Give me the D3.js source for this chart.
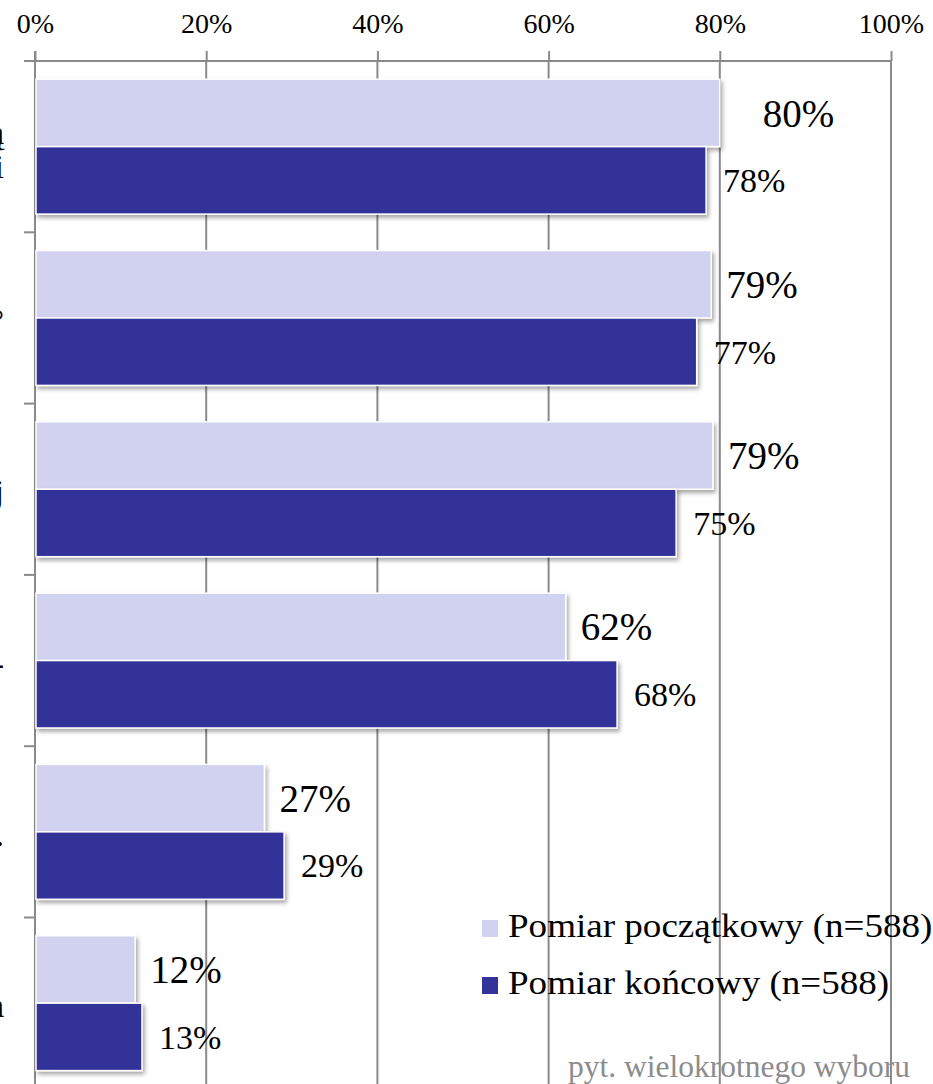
<!DOCTYPE html>
<html>
<head>
<meta charset="utf-8">
<script src="https://cdn.jsdelivr.net/npm/d3@7"></script>
<style>
  body { margin: 0; background: #fff; overflow: hidden; }
  text { font-family: "Liberation Serif", "Times New Roman", serif; }
</style>
</head>
<body>
<div class="wrapper"></div>
<script>
// data
var categories = ['k1', 'k2', 'k3', 'k4', 'k5', 'k6'];
// only the right ends of the category labels are visible in the picture
var categoryTails = [['ą', 'i'], ['°'], ['j'], ['-'], ['.'], ['a']];
var seriesNames = ['Pomiar początkowy (n=588)', 'Pomiar końcowy (n=588)'];
var poczatkowy = [80, 79, 79.2, 62, 26.8, 11.7];
var koncowy    = [78.4, 77.3, 74.9, 68, 29.1, 12.5];
var tickValues = [0, 20, 40, 60, 80, 100];
var note = 'pyt. wielokrotnego wyboru';

var colors = ['#d1d2ef', '#333399'];

var width = 933, height = 1084;
var margin = {top: 61, left: 35, right: 42};

var svg = d3.select('.wrapper').append('svg')
    .attr('width', width)
    .attr('height', height);

var defs = svg.append('defs');
var f = defs.append('filter').attr('id', 'shadow')
    .attr('x', '-5%').attr('y', '-10%').attr('width', '115%').attr('height', '130%');
f.append('feDropShadow')
    .attr('dx', 2).attr('dy', 3).attr('stdDeviation', 2)
    .attr('flood-color', '#000').attr('flood-opacity', 0.35);

var x = d3.scaleLinear()
    .domain([0, 100])
    .range([margin.left, width - margin.right]);

var y = d3.scaleBand()
    .domain(categories)
    .range([margin.top, margin.top + 6 * 171.3]);

var y1 = d3.scaleBand()
    .domain([0, 1])
    .range([0, y.bandwidth()])
    .paddingOuter(0.27);

var gridColor = '#8a8a8a';

// gridlines
svg.append('g')
    .selectAll('line')
    .data(tickValues.slice(1))
    .enter().append('line')
    .attr('x1', d => x(d)).attr('x2', d => x(d))
    .attr('y1', margin.top).attr('y2', height)
    .attr('stroke', gridColor).attr('stroke-width', 2);

// top axis
var xAxis = d3.axisTop(x)
    .tickValues(tickValues)
    .tickSize(10)
    .tickSizeOuter(0)
    .tickPadding(18)
    .tickFormat(d => d + '%');

var gx = svg.append('g')
    .attr('transform', 'translate(0,' + margin.top + ')')
    .call(xAxis);
gx.select('.domain').remove();
gx.selectAll('.tick line').attr('stroke', gridColor).attr('stroke-width', 2);
gx.selectAll('.tick text')
    .attr('fill', '#000')
    .style('font-family', '"Liberation Serif", serif')
    .style('font-size', '28px');

svg.append('line')
    .attr('x1', 24).attr('x2', x(100) + 1)
    .attr('y1', margin.top).attr('y2', margin.top)
    .attr('stroke', gridColor).attr('stroke-width', 2);

// left axis line and band ticks
svg.append('line')
    .attr('x1', x(0)).attr('x2', x(0))
    .attr('y1', margin.top - 10).attr('y2', height)
    .attr('stroke', gridColor).attr('stroke-width', 2);

svg.append('g')
    .selectAll('line')
    .data(categories.slice(1))
    .enter().append('line')
    .attr('x1', 24).attr('x2', x(0))
    .attr('y1', d => y(d)).attr('y2', d => y(d))
    .attr('stroke', gridColor).attr('stroke-width', 2);

// clipped category label ends
categories.forEach((c, i) => {
  var tails = categoryTails[i];
  var t = svg.append('text')
      .attr('text-anchor', 'end')
      .attr('font-size', '34px')
      .attr('fill', '#000');
  tails.forEach((s, j) => {
    t.append('tspan')
      .attr('x', 4)
      .attr('fill', '#000')
      .attr('y', y(c) + y.bandwidth() / 2 + 14 - (tails.length - 1) * 17 + j * 34)
      .text(s);
  });
});

// bars
var series = [poczatkowy, koncowy];
var groups = svg.append('g').selectAll('g')
    .data(categories)
    .enter().append('g')
    .attr('transform', d => 'translate(0,' + y(d) + ')');

var cells = groups.selectAll('rect')
    .data((d, i) => series.map((s, k) => ({k: k, v: s[i], i: i})))
    .enter();

cells.append('rect')
    .attr('x', x(0) + 1)
    .attr('y', d => y1(d.k))
    .attr('width', d => x(d.v) - x(0) - 1)
    .attr('height', y1.bandwidth())
    .attr('fill', d => colors[d.k])
    .attr('stroke', '#fff')
    .attr('stroke-width', 1.5)
    .attr('filter', 'url(#shadow)');

// value labels (first label nudged right, as in the original)
var labelNudge = [[28, 0], [0, 0], [0, 0], [0, 0], [0, 0], [0, 0]];
var labelSize = ['39px', '34px'];

groups.selectAll('text.value')
    .data((d, i) => series.map((s, k) => ({k: k, v: s[i], i: i})))
    .enter().append('text')
    .attr('class', 'value')
    .attr('x', d => x(d.v) + (d.k === 0 ? 15 : 17) + labelNudge[d.i][d.k])
    .attr('y', d => y1(d.k) + y1.bandwidth() / 2)
    .attr('dy', '0.35em')
    .attr('font-size', d => labelSize[d.k])
    .attr('fill', '#000')
    .text(d => Math.round(d.v) + '%');

// legend (the original text is a little stretched sideways)
var legend = svg.append('g')
    .selectAll('g')
    .data(seriesNames)
    .enter().append('g')
    .attr('transform', (d, i) => 'translate(482,' + (920 + i * 57) + ')');

legend.append('rect')
    .attr('width', 16).attr('height', 17)
    .attr('fill', (d, i) => colors[i]);

legend.append('text')
    .attr('x', 26).attr('y', 17)
    .attr('font-size', '34px')
    .attr('fill', '#000')
    .text(d => d)
    .each(function() {
      var len = this.getComputedTextLength();
      d3.select(this)
        .attr('textLength', len * 1.09)
        .attr('lengthAdjust', 'spacingAndGlyphs');
    });

// note
svg.append('text')
    .attr('x', 910).attr('y', 1077)
    .attr('text-anchor', 'end')
    .attr('font-size', '31.5px')
    .attr('fill', '#8c8c8c')
    .text(note);
</script>
</body>
</html>
